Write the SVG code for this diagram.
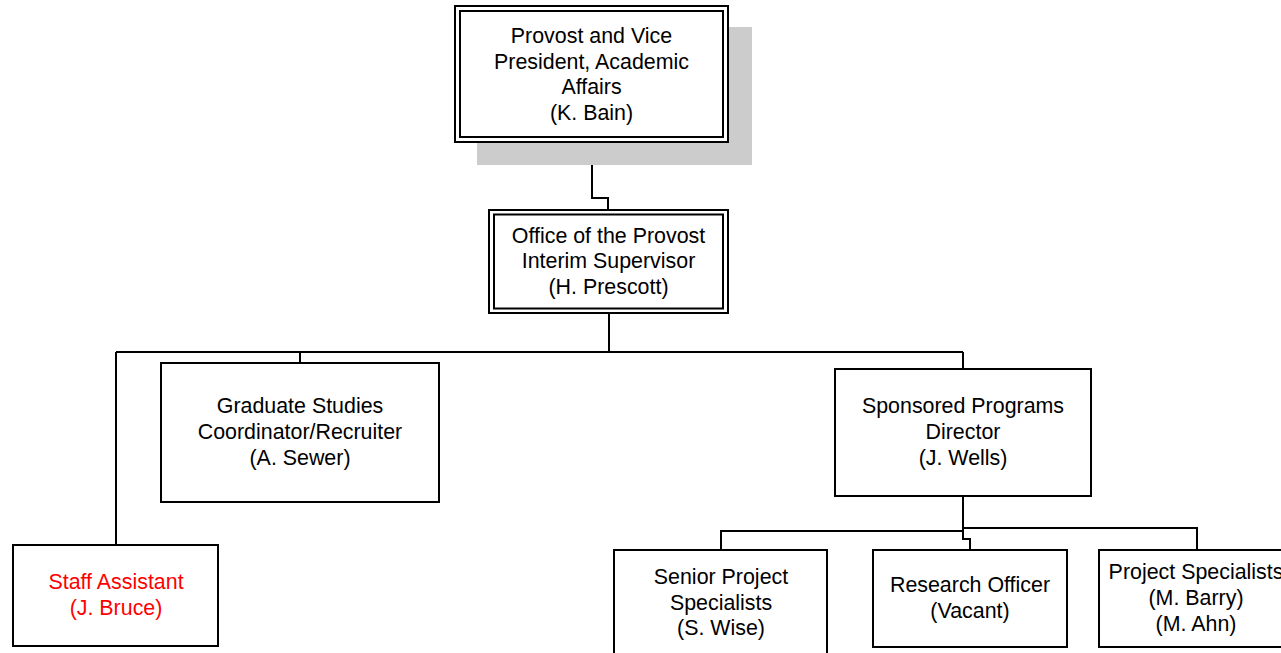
<svg xmlns="http://www.w3.org/2000/svg" width="1281" height="653" viewBox="0 0 1281 653">
<style>
.box{fill:#fff;stroke:#000;stroke-width:2}
.in{fill:none;stroke:#000;stroke-width:2}
.c{fill:none;stroke:#000;stroke-width:2}
text{font-family:"Liberation Sans",Arial,sans-serif;font-size:21.4px;text-anchor:middle;fill:#000}
.red{fill:#ff0000}
</style>
<rect width="1281" height="653" fill="#fff"/>
<g id="connectors">
<path class="c" d="M592,142 V198 H608 V210"/>
<path class="c" d="M609,313 V352"/>
<path class="c" d="M116,352 H963"/>
<path class="c" d="M116,352 V545"/>
<path class="c" d="M300,352 V363"/>
<path class="c" d="M963,352 V369"/>
<path class="c" d="M963,496 V539 H970 V550"/>
<path class="c" d="M721,550 V531 H963"/>
<path class="c" d="M963,528 H1197 V550"/>
</g>
<g id="provost">
<rect x="477" y="27" width="275" height="138" fill="#cccccc"/>
<rect class="box" x="455" y="6" width="273" height="136"/>
<rect class="in" x="460" y="11" width="263" height="126"/>
<text x="591.5" y="43">Provost and Vice</text>
<text x="591.5" y="68.5">President, Academic</text>
<text x="591.5" y="94">Affairs</text>
<text x="591.5" y="119.5">(K. Bain)</text>
</g>
<g id="office">
<rect class="box" x="489" y="210" width="239" height="103"/>
<rect class="in" x="494" y="214.5" width="229" height="94"/>
<text x="608.5" y="242.5">Office of the Provost</text>
<text x="608.5" y="268">Interim Supervisor</text>
<text x="608.5" y="293.5">(H. Prescott)</text>
</g>
<g id="graduate">
<rect class="box" x="161" y="363" width="278" height="139"/>
<text x="300" y="413">Graduate Studies</text>
<text x="300" y="439">Coordinator/Recruiter</text>
<text x="300" y="464.5">(A. Sewer)</text>
</g>
<g id="sponsored">
<rect class="box" x="835" y="369" width="256" height="127"/>
<text x="963" y="413">Sponsored Programs</text>
<text x="963" y="439">Director</text>
<text x="963" y="464.5">(J. Wells)</text>
</g>
<g id="staff">
<rect class="box" x="13" y="545" width="205" height="101"/>
<text class="red" x="116" y="589">Staff Assistant</text>
<text class="red" x="116" y="615">(J. Bruce)</text>
</g>
<g id="senior">
<rect class="box" x="614" y="550" width="213" height="110"/>
<text x="721" y="584">Senior Project</text>
<text x="721" y="609.5">Specialists</text>
<text x="721" y="635">(S. Wise)</text>
</g>
<g id="research">
<rect class="box" x="873" y="550" width="194" height="97"/>
<text x="970" y="592">Research Officer</text>
<text x="970" y="617.5">(Vacant)</text>
</g>
<g id="projspec">
<rect class="box" x="1099" y="550" width="200" height="97"/>
<text x="1196" y="579">Project Specialists</text>
<text x="1196" y="605">(M. Barry)</text>
<text x="1196" y="630.5">(M. Ahn)</text>
</g>
</svg>
